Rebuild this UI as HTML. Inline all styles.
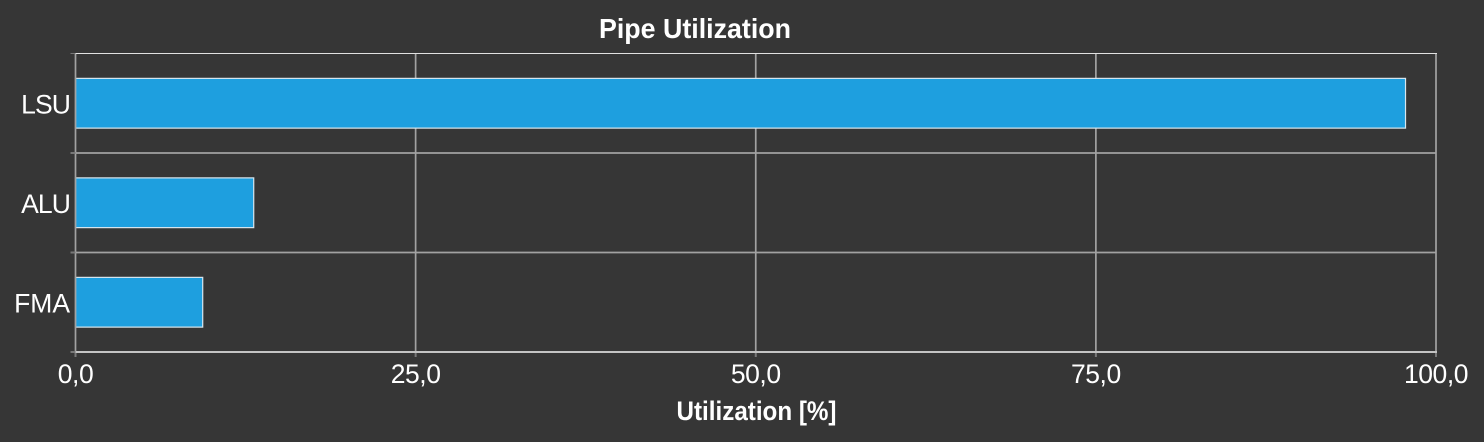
<!DOCTYPE html>
<html lang="en">
<head>
<meta charset="utf-8">
<title>Pipe Utilization</title>
<style>
html,body{margin:0;padding:0;background:#363636;width:1484px;height:442px;overflow:hidden}
svg{display:block}
text{font-family:"Liberation Sans",sans-serif;fill:#fff}
</style>
</head>
<body>
<svg id="chart" xmlns="http://www.w3.org/2000/svg" width="1484" height="442" viewBox="0 0 1484 442">
<rect x="0" y="0" width="1484" height="442" fill="#363636"/>
<text x="695" y="38" text-anchor="middle" font-size="28" font-weight="bold" textLength="192" lengthAdjust="spacingAndGlyphs">Pipe Utilization</text>
<text x="756.5" y="420" text-anchor="middle" font-size="27" font-weight="bold" textLength="160" lengthAdjust="spacingAndGlyphs">Utilization [%]</text>
<g id="grid"></g>
<g id="bars"></g>
<g id="axes"></g>
</svg>
<script>
const categories = ['LSU', 'ALU', 'FMA'];
const utilization = [97.76, 13.1, 9.35];
const xTickValues = [0, 25, 50, 75, 100];
const xTickLabels = ['0,0', '25,0', '50,0', '75,0', '100,0'];

const NS = 'http://www.w3.org/2000/svg';
const plotLeft = 75.5, plotRight = 1436, plotTop = 53.5, plotBottom = 352;
const xMax = xTickValues[xTickValues.length - 1];

function xScale(v) { return plotLeft + (v / xMax) * (plotRight - plotLeft); }
function bandTop(i) { return plotTop + i * (plotBottom - plotTop) / categories.length; }
function bandHeight() { return (plotBottom - plotTop) / categories.length; }

function make(tag, attrs, parent) {
  const el = document.createElementNS(NS, tag);
  for (const k in attrs) el.setAttribute(k, attrs[k]);
  parent.appendChild(el);
  return el;
}

const grid = document.getElementById('grid');
const bars = document.getElementById('bars');
const axes = document.getElementById('axes');

xTickValues.forEach(function (v, i) {
  const x = xScale(v);
  const g = make('line', { x1: x, x2: x, y1: plotTop, y2: plotBottom, stroke: '#a2a2a2', 'stroke-width': 1.7 }, i === 0 ? axes : grid);
  
  
  const t = make('line', { x1: x, x2: x, y1: plotBottom, y2: plotBottom + 5, stroke: '#787878', 'stroke-width': 2 }, axes);
  
  
  const lbl = make('text', { x: x, y: 383, 'text-anchor': 'middle', 'font-size': 26.5, 'letter-spacing': -0.45 }, axes);
  lbl.textContent = xTickLabels[i];
  
  
});

categories.forEach(function (c, i) {
  const top = bandTop(i), h = bandHeight();
  if (i > 0) {
    const g = make('line', { x1: plotLeft, x2: plotRight, y1: top, y2: top, stroke: '#a2a2a2', 'stroke-width': 1.7 }, grid);
    
    
  }
  const s = make('line', { x1: plotLeft - 5, x2: plotLeft, y1: top, y2: top, stroke: '#787878', 'stroke-width': i === 0 ? 1 : 2 }, axes);
  
  
  const barH = h / 2;
  const b = make('rect', {
    x: xScale(0), y: top + (h - barH) / 2, width: xScale(utilization[i]) - xScale(0), height: barH,
    fill: '#1e9fdf', stroke: '#d8e6ee', 'stroke-width': 1.2
  }, bars);
  
  
  const lbl = make('text', { x: 70, y: top + h / 2 + 10, 'text-anchor': 'end', 'font-size': 26.5, 'letter-spacing': i === 2 ? 0 : -0.9 }, axes);
  lbl.textContent = c;
  
  
});

const stub = make('line', { x1: plotLeft - 5, x2: plotLeft, y1: plotBottom, y2: plotBottom, stroke: '#787878', 'stroke-width': 2 }, axes);


const topLine = make('line', { x1: plotLeft, x2: plotRight + 1, y1: plotTop, y2: plotTop, stroke: '#e2e2e2', 'stroke-width': 1 }, axes);


const bottomLine = make('line', { x1: plotLeft, x2: plotRight + 1, y1: plotBottom, y2: plotBottom, stroke: '#c4c4c4', 'stroke-width': 2 }, axes);


</script>
</body>
</html>
